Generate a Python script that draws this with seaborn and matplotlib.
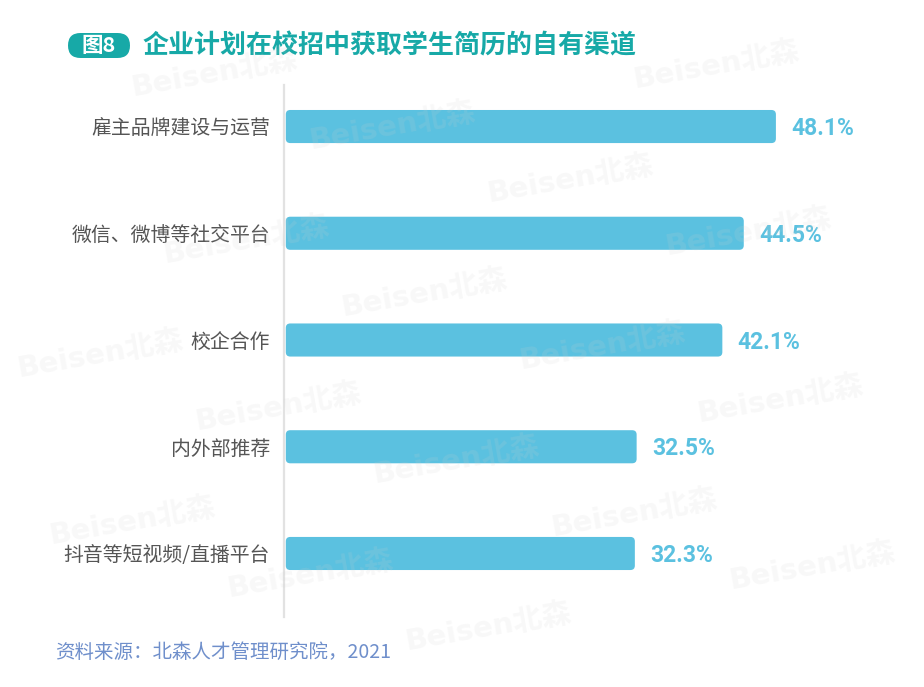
import matplotlib
matplotlib.use("Agg")
import matplotlib.pyplot as plt
from matplotlib.patches import FancyBboxPatch
import seaborn as sns

# data
channels = ['雇主品牌建设与运营', '微信、微博等社交平台', '校企合作', '内外部推荐', '抖音等短视频/直播平台']
shares = [48.1, 44.5, 42.1, 32.5, 32.3]
value_labels = ['48.1%', '44.5%', '42.1%', '32.5%', '32.3%']

title = '企业计划在校招中获取学生简历的自有渠道'
badge = '图8'
source = '资料来源：北森人才管理研究院，2021'
watermark = 'Beisen北森'

bar_color = '#5BC1E0'
teal = '#17A9A7'

sns.set_theme(style='white')
plt.rcParams['font.family'] = ['Noto Sans CJK SC', 'DejaVu Sans']

fig = plt.figure(figsize=(9.24, 6.87), dpi=100)
fig.patch.set_facecolor('white')

# faint tiled watermark, only the copies that fit inside the picture
W, H = 924.0, 687.0
for i in range(-4, 8):
    for j in range(-3, 6):
        px = 570 + 178 * i + 32 * j
        py = 180 + 53 * i + 167 * j
        if 95 < px < W - 95 and 25 < py < H - 25:
            fig.text(px / W, 1 - py / H, watermark, fontsize=21, fontweight='bold',
                     color='#d0d0d0', alpha=0.15, rotation=10,
                     ha='center', va='center', zorder=10,
                     family=['DejaVu Sans', 'Noto Sans CJK SC'])

ax = fig.add_axes([284 / W, 1 - 617 / H, 616 / W, 532 / H])
ax.patch.set_alpha(0)

sns.barplot(x=shares, y=channels, orient='h', color=bar_color, width=0.31,
            saturation=1, ax=ax)

x_min, x_max = -7.0, 62.0
ax.set_xlim(x_min, x_max)
ax.set_ylim(4.595, -0.389)

# swap plain bars for rounded ones that start at the axis line
bars = sorted(list(ax.patches), key=lambda p: p.get_y())
for p, v, lab in zip(bars, shares, value_labels):
    y0, h = p.get_y(), p.get_height()
    p.remove()
    box = FancyBboxPatch((x_min + 0.2, y0), v - x_min - 0.2, h,
                         boxstyle='round,pad=0,rounding_size=0.5',
                         mutation_aspect=0.083, fc=bar_color, ec='none', zorder=2)
    ax.add_patch(box)
    ax.text(v + 1.7, y0 + h / 2 + 0.02, lab, ha='left', va='center',
            fontsize=16.5, fontweight='bold', color=bar_color,
            family=['Roboto', 'DejaVu Sans'])

ax.set_xlabel('')
ax.set_ylabel('')
ax.set_xticks([])
ax.tick_params(axis='y', length=0, pad=10)
ax.set_yticks(range(len(channels)))
ax.set_yticklabels(channels, fontsize=14.3, color='#555555')
for s in ['top', 'right', 'bottom']:
    ax.spines[s].set_visible(False)
ax.spines['left'].set_color('#e2e2e2')
ax.spines['left'].set_linewidth(1.6)

# title with pill-shaped badge
pill = FancyBboxPatch((68 / W, 1 - 58 / H), 62 / W, 25 / H,
                      boxstyle='round,pad=0,rounding_size=0.0135',
                      mutation_aspect=W / H, fc=teal, ec='none',
                      transform=fig.transFigure)
fig.patches.append(pill)
fig.text(99 / W, 1 - 46 / H, badge, fontsize=15.5, fontweight='bold', color='white',
         ha='center', va='center')
fig.text(143 / W, 1 - 46 / H, title, fontsize=18.7, fontweight='bold', color=teal,
         ha='left', va='center')

fig.text(55 / W, 1 - 652 / H, source, fontsize=14, color='#6F8FCB',
         ha='left', va='center')

fig.savefig('out.png', dpi=100, facecolor='white')
